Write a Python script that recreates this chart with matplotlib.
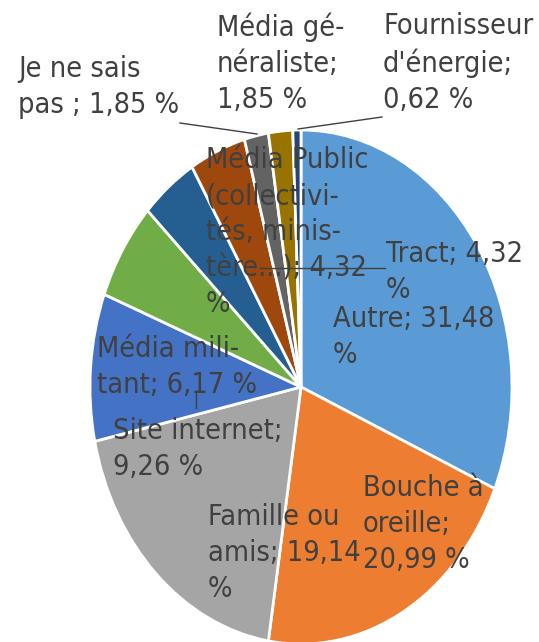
import matplotlib
matplotlib.use("Agg")
import matplotlib.pyplot as plt

categories = ["Autre", "Bouche à oreille", "Famille ou amis", "Site internet",
              "Média militant", "Média Public (collectivités, ministère...)",
              "Tract", "Je ne sais pas", "Média généraliste", "Fournisseur d'énergie"]
values = [31.48, 20.99, 19.14, 9.26, 6.17, 4.32, 4.32, 1.85, 1.85, 0.62]
colors = ["#5B9BD5", "#ED7D31", "#A5A5A5", "#4472C4", "#70AD47",
          "#255E91", "#9E480E", "#636363", "#997300", "#264478"]

# Label texts as wrapped in the chart
label_texts = [
    "Autre; 31,48\n%",
    "Bouche à\noreille;\n20,99 %",
    "Famille ou\namis; 19,14\n%",
    "Site internet;\n9,26 %",
    "Média mili-\ntant; 6,17 %",
    "Média Public\n(collectivi-\ntés, minis-\ntère...); 4,32\n%",
    "Tract; 4,32\n%",
    "Je ne sais\npas ; 1,85 %",
    "Média gé-\nnéraliste;\n1,85 %",
    "Fournisseur\nd'énergie;\n0,62 %",
]
# label anchor (left, last-line baseline) in pixels
label_pos = [(333, 363), (363, 568), (208, 597), (113, 475), (97, 393),
             (206, 312), (386, 298), (18, 113), (217, 108), (383, 108)]

W, H = 539, 642
CX, CY, RX, RY = 301, 387, 211, 257

fig = plt.figure(figsize=(W / 100, H / 100), dpi=100)
ax = fig.add_axes([0, 0, 1, 1])
ax.pie(values, colors=colors, startangle=90, counterclock=False, radius=1,
       center=(0, 0), wedgeprops=dict(edgecolor="white", linewidth=2))
ax.set_aspect("auto")
ax.set_xlim(-CX / RX, (W - CX) / RX)
ax.set_ylim(-(H - CY) / RY, CY / RY)
ax.axis("off")


def px(x, y):
    return (x - CX) / RX, (CY - y) / RY


# leader lines
leaders = [((180, 123), (257, 134)), ((382, 117), (298, 129)),
           ((385, 268), (260, 268)), ((196, 393), (196, 408))]
for (x0, y0), (x1, y1) in leaders:
    a, b = px(x0, y0)
    c, d = px(x1, y1)
    ax.plot([a, c], [b, d], color="#404040", lw=1)

for txt, (x, y) in zip(label_texts, label_pos):
    tx, ty = px(x, y)
    ax.text(tx, ty, txt, ha="left", va="baseline", fontsize=20.7,
            family="DejaVu Sans", fontstretch="condensed",
            color="#404040", linespacing=1.36)

fig.savefig("out.png", dpi=100)
